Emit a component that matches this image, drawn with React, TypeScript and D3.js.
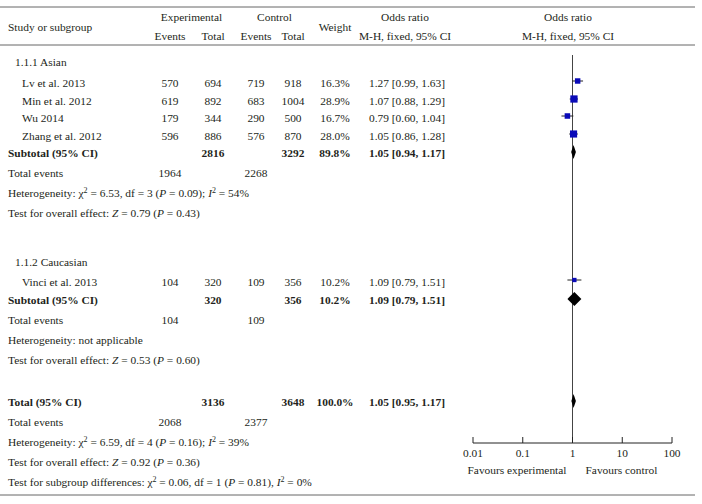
import React from 'react';
import * as d3 from 'd3';

const studies = ['Lv et al. 2013', 'Min et al. 2012', 'Wu 2014', 'Zhang et al. 2012', 'Vinci et al. 2013'];
const expEvents = [570, 619, 179, 596, 104];
const expTotal = [694, 892, 344, 886, 320];
const ctrlEvents = [719, 683, 290, 576, 109];
const ctrlTotal = [918, 1004, 500, 870, 356];
const weights = [16.3, 28.9, 16.7, 28.0, 10.2];
const oddsRatio = [1.27, 1.07, 0.79, 1.05, 1.09];
const ciLow = [0.99, 0.88, 0.6, 0.86, 0.79];
const ciHigh = [1.63, 1.29, 1.04, 1.28, 1.51];

// subtotal / total rows: Asian, Caucasian, overall
const pooledLabel = ['Subtotal (95% CI)', 'Subtotal (95% CI)', 'Total (95% CI)'];
const pooledExpTotal = [2816, 320, 3136];
const pooledCtrlTotal = [3292, 356, 3648];
const pooledWeight = ['89.8%', '10.2%', '100.0%'];
const pooledOR = [1.05, 1.09, 1.05];
const pooledLow = [0.94, 0.79, 0.95];
const pooledHigh = [1.17, 1.51, 1.17];
const pooledExpEvents = [1964, 104, 2068];
const pooledCtrlEvents = [2268, 109, 2377];

const axisTicks = [0.01, 0.1, 1, 10, 100];
const axisTickLabels = ['0.01', '0.1', '1', '10', '100'];

const W = 702;
const H = 504;
const FONT = '"Liberation Serif", "Times New Roman", serif';
const INK = '#231f20';
const BLUE = '#0a0ab8';

// column centres
const colExpEv = 170;
const colExpTot = 213;
const colCtrlEv = 256;
const colCtrlTot = 293;
const colWeight = 335;
const colOR = 407;

// row y (centre of text)
const studyRows = [83, 101, 118, 136, 282];
const pooledRows = [153, 300, 402];
const eventRows = [173, 320, 422];

const x = d3.scaleLog().domain([0.01, 100]).range([473, 672]);

const T = ({ x: tx, y, anchor = 'middle', bold = false, children }: any) => (
  <text
    x={tx}
    y={y}
    dy="0.35em"
    textAnchor={anchor}
    fontWeight={bold ? 'bold' : 'normal'}
  >
    {children}
  </text>
);

const fmt = (v: number) => v.toFixed(2);

const Sup = ({ children }: any) => (
  <tspan dy="-4" fontSize="8">{children}</tspan>
);

const App = () => {
  const diamond = (lo: number, mid: number, hi: number, y: number, h: number) => {
    const l = x(lo), m = x(mid), r = x(hi);
    return `M${l},${y} L${m},${y - h / 2} L${r},${y} L${m},${y + h / 2} Z`;
  };

  return (
    <svg
      width={W}
      height={H}
      style={{ position: 'absolute', left: 0, top: 0, background: '#fff' }}
      fontFamily={FONT}
      fontSize={11.4}
      fill={INK}
    >
      {/* rules */}
      <line x1={0} x2={695} y1={7} y2={7} stroke="#666" strokeWidth={1} />
      <line x1={0} x2={695} y1={45} y2={45} stroke="#666" strokeWidth={1} />
      <line x1={0} x2={695} y1={495} y2={495} stroke="#666" strokeWidth={1} />

      {/* header */}
      <T x={8} y={27} anchor="start">Study or subgroup</T>
      <T x={(colExpEv + colExpTot) / 2} y={17}>Experimental</T>
      <T x={(colCtrlEv + colCtrlTot) / 2} y={17}>Control</T>
      <T x={colExpEv} y={36}>Events</T>
      <T x={colExpTot} y={36}>Total</T>
      <T x={colCtrlEv} y={36}>Events</T>
      <T x={colCtrlTot} y={36}>Total</T>
      <T x={colWeight} y={27}>Weight</T>
      <T x={405} y={17}>Odds ratio</T>
      <T x={405} y={36}>M-H, fixed, 95% CI</T>
      <T x={568} y={17}>Odds ratio</T>
      <T x={568} y={36}>M-H, fixed, 95% CI</T>

      {/* subgroup headings */}
      <T x={15} y={62} anchor="start">1.1.1 Asian</T>
      <T x={15} y={262} anchor="start">1.1.2 Caucasian</T>

      {/* study rows */}
      {studies.map((s, i) => (
        <g key={s}>
          <T x={22} y={studyRows[i]} anchor="start">{s}</T>
          <T x={colExpEv} y={studyRows[i]}>{expEvents[i]}</T>
          <T x={colExpTot} y={studyRows[i]}>{expTotal[i]}</T>
          <T x={colCtrlEv} y={studyRows[i]}>{ctrlEvents[i]}</T>
          <T x={colCtrlTot} y={studyRows[i]}>{ctrlTotal[i]}</T>
          <T x={colWeight} y={studyRows[i]}>{weights[i].toFixed(1)}%</T>
          <T x={colOR} y={studyRows[i]}>{`${fmt(oddsRatio[i])} [${fmt(ciLow[i])}, ${fmt(ciHigh[i])}]`}</T>
        </g>
      ))}

      {/* pooled rows */}
      {pooledLabel.map((s, i) => (
        <g key={'p' + i}>
          <T x={8} y={pooledRows[i]} anchor="start" bold>{s}</T>
          <T x={colExpTot} y={pooledRows[i]} bold>{pooledExpTotal[i]}</T>
          <T x={colCtrlTot} y={pooledRows[i]} bold>{pooledCtrlTotal[i]}</T>
          <T x={colWeight} y={pooledRows[i]} bold>{pooledWeight[i]}</T>
          <T x={colOR} y={pooledRows[i]} bold>{`${fmt(pooledOR[i])} [${fmt(pooledLow[i])}, ${fmt(pooledHigh[i])}]`}</T>
          <T x={8} y={eventRows[i]} anchor="start">Total events</T>
          <T x={colExpEv} y={eventRows[i]}>{pooledExpEvents[i]}</T>
          <T x={colCtrlEv} y={eventRows[i]}>{pooledCtrlEvents[i]}</T>
        </g>
      ))}

      {/* statistics */}
      <text x={8} y={193} dy="0.35em">
        Heterogeneity: χ<Sup>2</Sup><tspan dy="4"> = 6.53, df = 3 (</tspan><tspan fontStyle="italic">P</tspan> = 0.09); <tspan fontStyle="italic">I</tspan><Sup>2</Sup><tspan dy="4"> = 54%</tspan>
      </text>
      <text x={8} y={213} dy="0.35em">
        Test for overall effect: <tspan fontStyle="italic">Z</tspan> = 0.79 (<tspan fontStyle="italic">P</tspan> = 0.43)
      </text>
      <T x={8} y={340} anchor="start">Heterogeneity: not applicable</T>
      <text x={8} y={360} dy="0.35em">
        Test for overall effect: <tspan fontStyle="italic">Z</tspan> = 0.53 (<tspan fontStyle="italic">P</tspan> = 0.60)
      </text>
      <text x={8} y={442} dy="0.35em">
        Heterogeneity: χ<Sup>2</Sup><tspan dy="4"> = 6.59, df = 4 (</tspan><tspan fontStyle="italic">P</tspan> = 0.16); <tspan fontStyle="italic">I</tspan><Sup>2</Sup><tspan dy="4"> = 39%</tspan>
      </text>
      <text x={8} y={462} dy="0.35em">
        Test for overall effect: <tspan fontStyle="italic">Z</tspan> = 0.92 (<tspan fontStyle="italic">P</tspan> = 0.36)
      </text>
      <text x={8} y={482} dy="0.35em">
        Test for subgroup differences: χ<Sup>2</Sup><tspan dy="4"> = 0.06, df = 1 (</tspan><tspan fontStyle="italic">P</tspan> = 0.81), <tspan fontStyle="italic">I</tspan><Sup>2</Sup><tspan dy="4"> = 0%</tspan>
      </text>

      {/* plot: null line */}
      <line x1={x(1)} x2={x(1)} y1={55} y2={443} stroke="#444" strokeWidth={1} />

      {/* study CIs and squares */}
      {studies.map((s, i) => {
        const side = 1.35 * Math.sqrt(weights[i]);
        const cx = x(oddsRatio[i]);
        const cy = studyRows[i] - 2;
        return (
          <g key={'m' + s}>
            <line x1={x(ciLow[i])} x2={x(ciHigh[i])} y1={cy} y2={cy} stroke="#222" strokeWidth={1} />
            <rect x={cx - side / 2} y={cy - side / 2} width={side} height={side} fill={BLUE} />
          </g>
        );
      })}

      {/* diamonds */}
      {pooledLabel.map((s, i) => (
        <path key={'d' + i} d={diamond(pooledLow[i], pooledOR[i], pooledHigh[i], pooledRows[i] - 1, 14)} fill="#000" />
      ))}

      {/* axis */}
      <line x1={x(0.01)} x2={x(100)} y1={443} y2={443} stroke="#222" strokeWidth={1} />
      {axisTicks.map((t, i) => (
        <g key={'t' + t}>
          <line x1={x(t)} x2={x(t)} y1={437} y2={443} stroke="#222" strokeWidth={1} />
          <T x={x(t)} y={453}>{axisTickLabels[i]}</T>
        </g>
      ))}
      <T x={x(1) - 6} y={470} anchor="end">Favours experimental</T>
      <T x={x(1) + 13} y={470} anchor="start">Favours control</T>
    </svg>
  );
};

export default App;
